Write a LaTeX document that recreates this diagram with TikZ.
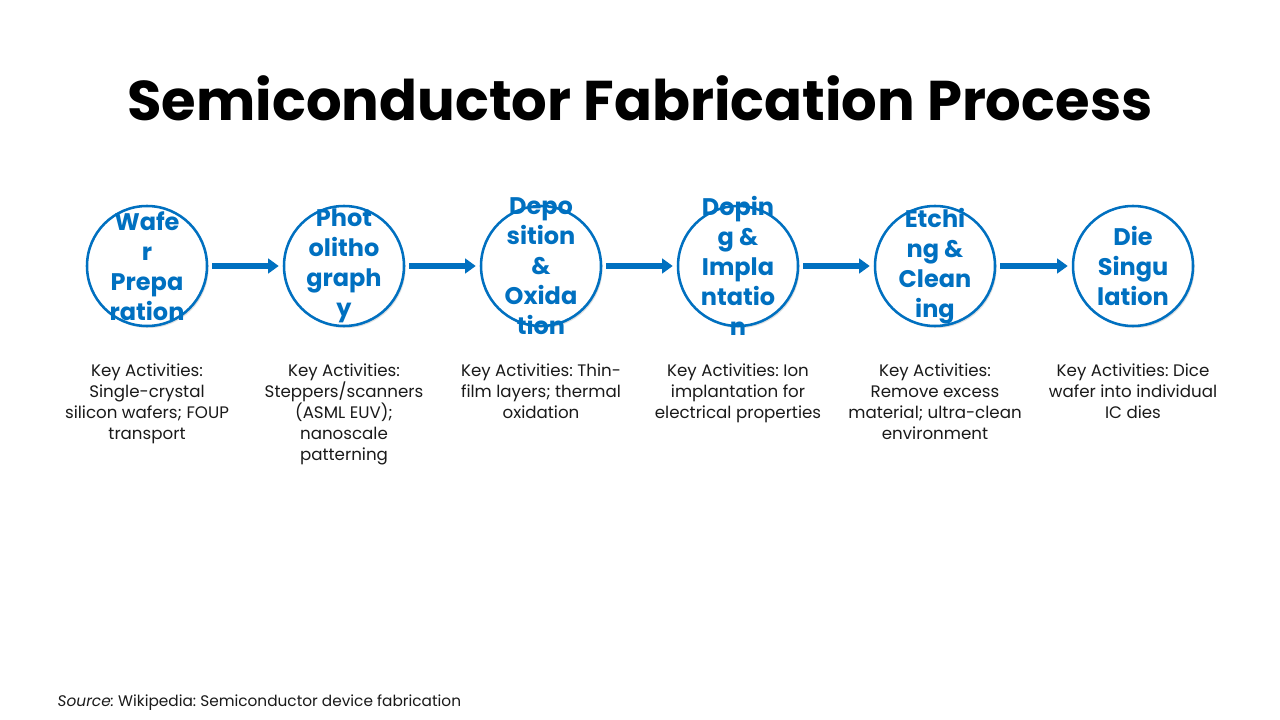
\documentclass[tikz,border=0pt]{standalone}
\usepackage{fontspec}
\setmainfont{Poppins}
\frenchspacing
\usetikzlibrary{shadows,arrows.meta}
\definecolor{stageblue}{HTML}{0070C0}
\definecolor{bodygray}{HTML}{1A1A1A}
\tikzset{
  stage/.style={circle, draw=stageblue, line width=1.9pt, fill=white, minimum size=90pt, inner sep=0pt,
    drop shadow={shadow xshift=1.2pt, shadow yshift=-1.5pt, opacity=0.25}},
  stagetext/.style={text=stageblue, font=\bfseries\fontsize{18}{22.5}\selectfont, align=center},
  keytext/.style={text=bodygray, font=\fontsize{12.5}{15.75}\selectfont, align=center, anchor=north},
  flow/.style={-{Triangle[length=8pt,width=11pt]}, line width=5pt, stageblue, shorten <=3pt, shorten >=3pt},
}
\begin{document}
\begin{tikzpicture}[x=0.75pt,y=-0.75pt]
    \useasboundingbox[fill=white] (0,0) rectangle (1280,720);
    \node (title) at (640,98) {\bfseries\fontsize{42}{50}\selectfont Semiconductor Fabrication Process};
    % stages
    \node[stage] (wafer) at (147,266) {};
    \node[stage] (photo) at (344,266) {};
    \node[stage] (depo) at (541,266) {};
    \node[stage] (doping) at (738,266) {};
    \node[stage] (etch) at (935,266) {};
    \node[stage] (die) at (1133,266) {};
    \node[stagetext] (wafer label) at (wafer) {Wafe\\r\\Prepa\\ration};
    \node[stagetext] (photo label) at (photo) {Phot\\olitho\\graph\\y};
    \node[stagetext] (depo label) at (depo) {Depo\\sition\\\&\\Oxida\\tion};
    \node[stagetext] (doping label) at (doping) {Dopin\\g \&\\Impla\\ntatio\\n};
    \node[stagetext] (etch label) at (etch) {Etchi\\ng \&\\Clean\\ing};
    \node[stagetext] (die label) at (die) {Die\\Singu\\lation};
    \draw[flow] (wafer) -- (photo);
    \draw[flow] (photo) -- (depo);
    \draw[flow] (depo) -- (doping);
    \draw[flow] (doping) -- (etch);
    \draw[flow] (etch) -- (die);
    % key activities
    \node[keytext] (wafer keys) at (147,359) {Key Activities:\\Single-crystal\\silicon wafers; FOUP\\transport};
    \node[keytext] (photo keys) at (344,359) {Key Activities:\\Steppers/scanners\\(ASML EUV);\\nanoscale\\patterning};
    \node[keytext] (depo keys) at (541,359) {Key Activities: Thin-\\film layers; thermal\\oxidation};
    \node[keytext] (doping keys) at (738,359) {Key Activities: Ion\\implantation for\\electrical properties};
    \node[keytext] (etch keys) at (935,359) {Key Activities:\\Remove excess\\material; ultra-clean\\environment};
    \node[keytext] (die keys) at (1133,359) {Key Activities: Dice\\wafer into individual\\IC dies};
    \node[anchor=west, text=bodygray, font=\fontsize{11.5}{15}\selectfont] (source) at (53,703) {\textit{Source:} Wikipedia: Semiconductor device fabrication};
\end{tikzpicture}
\end{document}
